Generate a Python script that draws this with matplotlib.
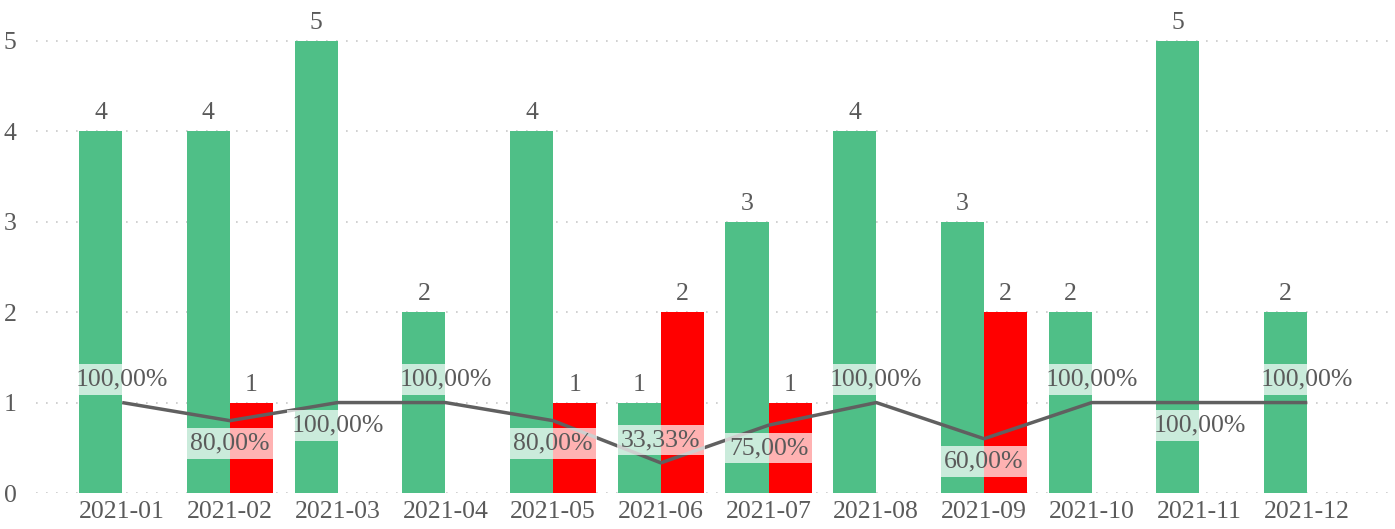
import numpy as np
from matplotlib import pyplot as plt

months = ['2021-01', '2021-02', '2021-03', '2021-04', '2021-05', '2021-06',
          '2021-07', '2021-08', '2021-09', '2021-10', '2021-11', '2021-12']
ok_counts = [4, 4, 5, 2, 4, 1, 3, 4, 3, 2, 5, 2]
ko_counts = [0, 1, 0, 0, 1, 2, 1, 0, 2, 0, 0, 0]
ratio = [1.0, 0.8, 1.0, 1.0, 0.8, 0.3333, 0.75, 1.0, 0.6, 1.0, 1.0, 1.0]
# where the percent label goes: +1 above the point, -1 below
label_side = [1, -1, -1, 1, -1, 1, -1, 1, -1, 1, -1, 1]

plt.rcParams['font.family'] = ['Liberation Serif', 'DejaVu Serif']

GREEN = '#4fbf87'
RED = '#ff0000'
TXT = '#5a5a5a'
FS = 18.5

fig = plt.figure(figsize=(13.95, 5.29), dpi=100)
ax = fig.add_axes([0.0258, 0.068, 0.9692, 0.932])

x = np.arange(len(months))
w = 0.4
ax.bar(x - w / 2, ok_counts, w, color=GREEN, zorder=2)
ax.bar(x + w / 2, ko_counts, w, color=RED, zorder=2)

for i in range(len(months)):
    ax.annotate(str(ok_counts[i]), (x[i] - w / 2, ok_counts[i]),
                xytext=(0, 5), textcoords='offset points',
                ha='center', va='bottom', fontsize=FS, color=TXT)
    if ko_counts[i] > 0:
        ax.annotate(str(ko_counts[i]), (x[i] + w / 2, ko_counts[i]),
                    xytext=(0, 5), textcoords='offset points',
                    ha='center', va='bottom', fontsize=FS, color=TXT)

ax.plot(x, ratio, color='#606060', lw=2.5, zorder=3, solid_capstyle='butt')

for i in range(len(months)):
    s = '{:.2f}%'.format(ratio[i] * 100).replace('.', ',')
    ax.annotate(s, (x[i], ratio[i]), xytext=(0, 16.5 * label_side[i]),
                textcoords='offset points', ha='center', va='center',
                fontsize=FS, color=TXT, zorder=4,
                bbox=dict(boxstyle='square,pad=0.17', fc='white', ec='none', alpha=0.7))

ax.set_xlim(-0.8, 11.75)
ax.set_ylim(0, 5.45)
ax.set_yticks([0, 1, 2, 3, 4, 5])
ax.set_xticks(x)
ax.set_xticklabels(months)
ax.tick_params(length=0, labelsize=FS, labelcolor=TXT)
ax.tick_params(axis='y', pad=14)
ax.tick_params(axis='x', pad=6)
for sp in ax.spines.values():
    sp.set_visible(False)
ax.grid(axis='y', color='#c8c8c8', linestyle=(0, (1, 5)), lw=1.2, zorder=0)
ax.set_axisbelow(True)

fig.savefig('out.png', dpi=100)
